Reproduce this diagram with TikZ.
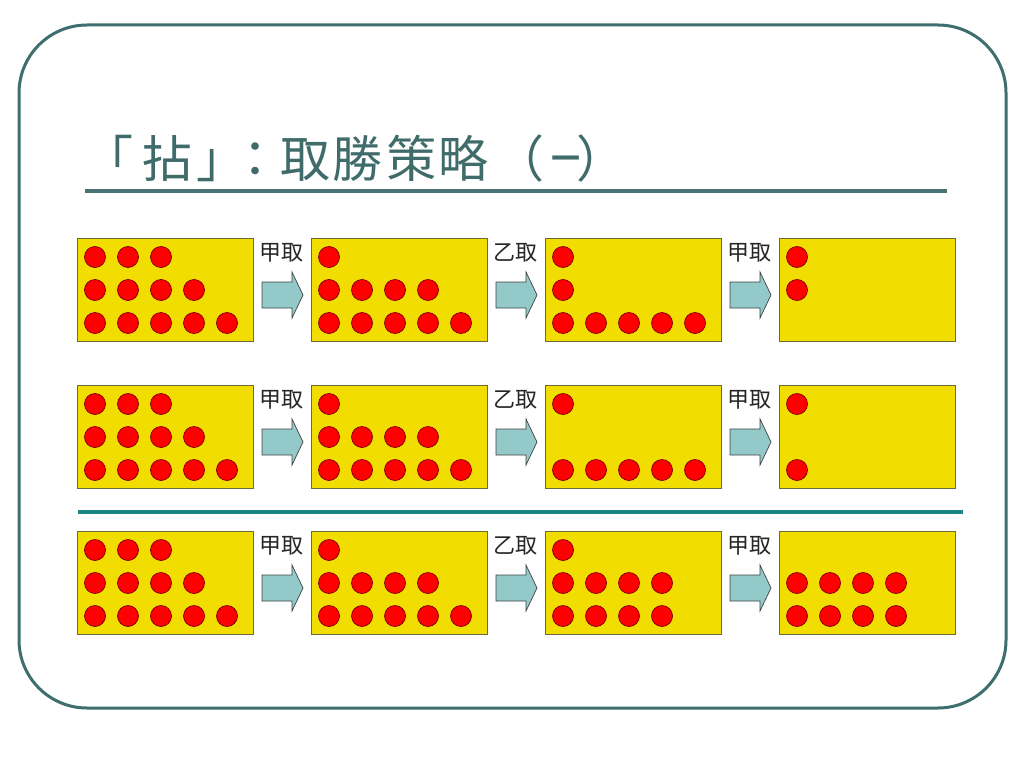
\documentclass[tikz,border=0pt]{standalone}
\usepackage{fontspec}
\newfontfamily\cjk{Noto Sans CJK TC}
\definecolor{framec}{HTML}{3E6E6E}
\definecolor{titlec}{HTML}{3F6B6B}
\definecolor{tlinec}{HTML}{4A7474}
\definecolor{sepc}{HTML}{1A8585}
\definecolor{boxfill}{HTML}{F2DD00}
\definecolor{boxline}{HTML}{6B6B3A}
\definecolor{dotfill}{HTML}{FF0000}
\definecolor{dotline}{HTML}{7A0000}
\definecolor{arrfill}{HTML}{93C9C9}
\definecolor{arrline}{HTML}{404040}
\tikzset{
  framebox/.style={draw=framec, line width=3pt, rounded corners=68pt},
  titletext/.style={text=titlec, font=\cjk\fontsize{50}{50}\selectfont, inner sep=0pt, anchor=base},
  pilebox/.style={draw=boxline, fill=boxfill, line width=0.9pt, minimum width=176pt, minimum height=103pt, inner sep=0pt, anchor=north west},
  dot/.style={circle, draw=dotline, fill=dotfill, line width=0.7pt, minimum size=21pt, inner sep=0pt},
  movearrow/.style={draw=arrline, fill=arrfill, line width=0.7pt},
  movelabel/.style={font=\cjk\fontsize{22}{22}\selectfont, text=black!85, inner sep=0pt, anchor=base},
}
\begin{document}
\begin{tikzpicture}[x=1pt,y=-1pt]
\useasboundingbox (0,0) rectangle (1024,768);
\draw[framebox] (19,25) rectangle (1006,708);
\foreach \ch/\cx [count=\i] in {「/108,拈/167,」/221,：/255,取/305,勝/357,策/411,略/463,（/519,{\scalebox{0.58}[1]{一}}/566,）/601} {
  \node[titletext] (title\i) at (\cx,177) {\ch};
}
\draw[tlinec, line width=4pt] (85,191) coordinate (tl1) -- (947,191) coordinate (tl2);
\draw[sepc, line width=4pt] (78,512) coordinate (s1) -- (963,512) coordinate (s2);
% rows
\foreach \r/\top/\cfg in {1/238/{{3,4,5},{1,4,5},{1,1,5},{1,1,0}},
                          2/385/{{3,4,5},{1,4,5},{1,0,5},{1,0,1}},
                          3/531/{{3,4,5},{1,4,5},{1,4,4},{0,4,4}}} {
  \foreach \cnt [count=\b from 0] in \cfg {
    \pgfmathsetmacro{\left}{77+234*\b}
    \node[pilebox] (box\r-\b) at (\left,\top) {};
    \foreach \n [count=\row from 0] in \cnt {
      \ifnum\n>0
        \foreach \c in {1,...,\n} {
          \node[dot] (d\r-\b-\row-\c) at ({\left+18+33*(\c-1)},{\top+19+33*\row}) {};
        }
      \fi
    }
  }
  \foreach \b/\who in {0/甲取,1/乙取,2/甲取} {
    \pgfmathsetmacro{\ax}{77+234*\b+176}
    \pgfmathsetmacro{\ay}{\top+57}
    \draw[movearrow] (\ax+9,\ay-13) -- (\ax+39,\ay-13) -- (\ax+39,\ay-23) -- (\ax+50,\ay) -- (\ax+39,\ay+23) -- (\ax+39,\ay+13) -- (\ax+9,\ay+13) -- cycle;
    \node[movelabel] (lab\r-\b) at (\ax+28,\top+22) {\who};
  }
}
\end{tikzpicture}
\end{document}
